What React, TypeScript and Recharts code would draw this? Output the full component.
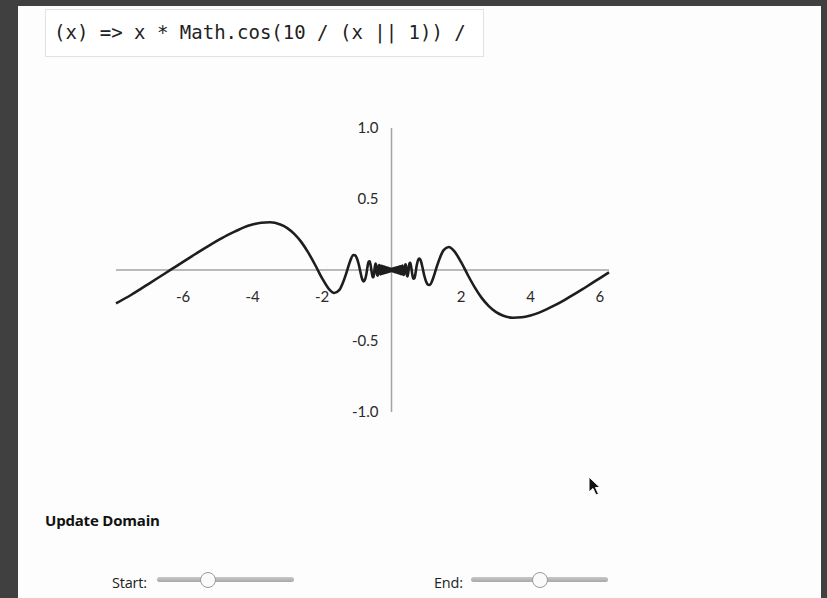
import { LineChart, Line, XAxis, YAxis, ReferenceLine, ReferenceDot } from 'recharts'

// points (x, y)
const xs = [
  -7.93, -7.5, -7.25, -7, -6.75, -6.5, -6.25, -6, -5.75, -5.5, -5.25, -5, -4.75, -4.5, -4.25, -4, -3.75, -3.5, -3.2, -3,
  -2.8, -2.6, -2.4, -2.2, -2, -1.8, -1.65, -1.5, -1.4, -1.3, -1.2, -1.1, -1.05, -1, -0.95, -0.9, -0.85, -0.8, -0.75, -0.72,
  -0.7, -0.66, -0.63, -0.6, -0.57, -0.54, -0.52, -0.5, -0.48, -0.46, -0.44, -0.42, -0.4, -0.38, -0.36, -0.34, -0.32,
  -0.3, -0.29, -0.28, -0.27, -0.26, -0.25, -0.24, -0.23, -0.22, -0.21, -0.2, -0.19, -0.18, -0.17, -0.16, -0.15, -0.14,
  -0.13, -0.12, -0.11, -0.1, -0.09, -0.08, -0.07, -0.06, -0.05, -0.04, -0.03, -0.02, -0.01, 0,
  0.01, 0.02, 0.03, 0.04, 0.05, 0.06, 0.07, 0.08, 0.09, 0.1, 0.11, 0.12, 0.13, 0.14, 0.15, 0.16, 0.17, 0.18, 0.19, 0.2,
  0.21, 0.22, 0.23, 0.24, 0.25, 0.26, 0.27, 0.28, 0.29, 0.3,
  0.32, 0.34, 0.36, 0.38, 0.4, 0.42, 0.44, 0.46, 0.48, 0.5, 0.52, 0.54, 0.57, 0.6, 0.63, 0.66, 0.7, 0.72, 0.75, 0.8,
  0.85, 0.9, 0.95, 1, 1.05, 1.1, 1.2, 1.3, 1.4, 1.5, 1.65, 1.8, 2, 2.2, 2.4, 2.6, 2.8, 3, 3.2, 3.5,
  3.75, 4, 4.25, 4.5, 4.75, 5, 5.25, 5.5, 5.75, 6, 6.26,
]
const ys = [
  -0.235, -0.176, -0.138, -0.099, -0.06, -0.021, 0.018, 0.057, 0.096, 0.135, 0.172, 0.208, 0.242, 0.272, 0.3, 0.32, 0.333, 0.336, 0.32, 0.295,
  0.254, 0.198, 0.124, 0.037, -0.057, -0.134, -0.162, -0.14, -0.09, -0.021, 0.057, 0.105, 0.104, 0.084, 0.046, -0.009, -0.06, -0.08, -0.058, -0.024,
  0.009, 0.058, 0.062, 0.034, -0.015, -0.051, -0.048, -0.02, 0.022, 0.045, 0.033, -0.03, -0.04, -0.014, 0.034, 0.03, -0.032,
  0.03, -0.028, 0.028, -0.026, 0.027, -0.025, 0.025, -0.024, 0.024, -0.022, 0.022, -0.021, 0.02, -0.019, 0.019, -0.018, 0.017,
  -0.017, 0.016, -0.015, 0.015, -0.014, 0.013, -0.013, 0.012, -0.011, 0.011, -0.01, 0.009, -0.008, 0,
  0.008, -0.009, 0.01, -0.011, 0.011, -0.012, 0.013, -0.013, 0.014, -0.015, 0.015, -0.016, 0.017, -0.017, 0.018, -0.019, 0.019, -0.02, 0.021, -0.022,
  0.022, -0.024, 0.024, -0.025, 0.025, -0.027, 0.026, -0.028, 0.028, -0.03,
  0.032, -0.03, -0.034, 0.014, 0.04, 0.03, -0.033, -0.045, -0.022, 0.02, 0.048, 0.051, 0.015, -0.034, -0.062, -0.058, -0.009, 0.024, 0.058, 0.08,
  0.06, 0.009, -0.046, -0.084, -0.104, -0.105, -0.057, 0.021, 0.09, 0.14, 0.162, 0.134, 0.057, -0.037, -0.124, -0.198, -0.254, -0.295, -0.32, -0.336,
  -0.333, -0.32, -0.3, -0.272, -0.242, -0.208, -0.172, -0.135, -0.096, -0.057, -0.017,
]

const xTicks = [-6, -4, -2, 2, 4, 6]
const yTicks = [1, 0.5, -0.5, -1]

const data = xs.map((x, i) => ({ x, y: ys[i] }))

const labelFont = { fontFamily: 'Lato, "Open Sans", sans-serif', fontSize: 15, fill: '#2a2a2a' }

function Slider({ label, left, trackLeft, thumb }: { label: string; left: number; trackLeft: number; thumb: number }) {
  return (
    <>
      <div style={{ position: 'absolute', left, top: 573, fontFamily: '"Open Sans", sans-serif', fontSize: 14.5, letterSpacing: -0.2, color: '#222' }}>{label}</div>
      <div style={{ position: 'absolute', left: trackLeft, top: 577, width: 137, height: 5, borderRadius: 3, background: 'linear-gradient(#c8c8c8, #a8a8a8)' }} />
      <div style={{ position: 'absolute', left: thumb - 8, top: 572, width: 14, height: 14, borderRadius: '50%', background: '#fafafa', border: '1px solid #9a9a9a' }} />
    </>
  )
}

export default function App() {
  return (
    <div style={{ position: 'fixed', left: 0, top: 0, width: 827, height: 598, background: '#404040', overflow: 'hidden' }}>
      <div style={{ position: 'absolute', left: 18, top: 6, width: 803, height: 600, background: '#fdfdfd' }} />
      <div style={{ position: 'absolute', left: 45, top: 9, width: 437, height: 46, border: '1px solid #e2e2e2', background: '#fff' }}>
        <div style={{ position: 'absolute', left: 8, top: 11, fontFamily: '"DejaVu Sans Mono", monospace', fontSize: 19, color: '#222', whiteSpace: 'pre' }}>
          {'(x) => x * Math.cos(10 / (x || 1)) /'}
        </div>
      </div>
      <div style={{ position: 'absolute', left: 0, top: 0 }}>
        <LineChart width={827} height={460} data={data} margin={{ top: 128, right: 218, bottom: 48, left: 116 }}>
          <XAxis dataKey="x" type="number" domain={[-7.93, 6.26]} hide />
          <YAxis type="number" domain={[-1, 1]} hide />
          <ReferenceLine y={0} stroke="#a3a3a3" strokeWidth={1.5} />
          <ReferenceLine x={0} stroke="#a3a3a3" strokeWidth={1.5} />
          {xTicks.map((t) => (
            <ReferenceDot key={'x' + t} x={t} y={0} r={0} stroke="none" fill="none"
              label={{ value: String(t), position: 'bottom', offset: 21, style: labelFont }} />
          ))}
          {yTicks.map((t) => (
            <ReferenceDot key={'y' + t} x={0} y={t} r={0} stroke="none" fill="none"
              label={{ value: t.toFixed(1), position: 'left', offset: 13, style: labelFont }} />
          ))}
          <Line dataKey="y" type="monotone" stroke="#1e1e1e" strokeWidth={2.6} dot={false} isAnimationActive={false} />
        </LineChart>
      </div>
      <div style={{ position: 'absolute', left: 45, top: 510, fontFamily: '"Open Sans", sans-serif', fontWeight: 700, fontSize: 15, letterSpacing: -0.2, color: '#111' }}>
        Update Domain
      </div>
      <Slider label="Start:" left={112} trackLeft={157} thumb={208} />
      <Slider label="End:" left={434} trackLeft={471} thumb={540} />
      <svg style={{ position: 'absolute', left: 588, top: 476 }} width={14} height={22}>
        <path d="M1 1 L1 16 L5 12.5 L8 19 L10.5 18 L7.5 11.5 L12 11.5 Z" fill="#111" stroke="#fff" strokeWidth={1} />
      </svg>
    </div>
  )
}
